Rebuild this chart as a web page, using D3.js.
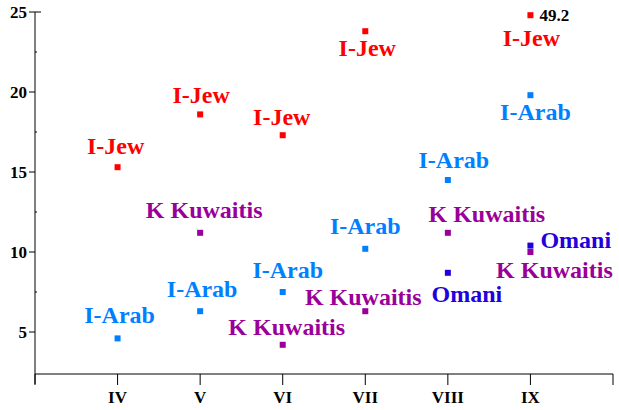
<!DOCTYPE html>
<html>
<head>
<meta charset="utf-8">
<script src="https://cdn.jsdelivr.net/npm/d3@7"></script>
</head>
<body style="margin:0">
<script>
// periods on the x axis (roman numerals, index 4..9)
const periods = ['IV', 'V', 'VI', 'VII', 'VIII', 'IX'];
const periodNums = [4, 5, 6, 7, 8, 9];

// series values per period (null = no point)
const iJew = [15.3, 18.6, 17.3, 23.8, null, 49.2];
const iArab = [4.6, 6.3, 7.5, 10.2, 14.5, 19.8];
const kKuwaitis = [null, 11.2, 4.2, 6.3, 11.2, 10.0];
const omani = [null, null, null, null, 8.7, 10.4];

const yTicks = [5, 10, 15, 20, 25];
const yMinor = [7.5, 12.5, 17.5, 22.5];

// values above the top are drawn just under the frame and get their value written beside
const offScaleCap = 24.8;

// label placement per point: [dx, dy, anchor]
const labelPlace = {
    'I-Jew': [[-2, -13], [1, -11], [-1, -10], [2, 25], null, [1, 31]],
    'I-Arab': [[2, -15], [2, -14], [5, -14], [0, -15], [6, -12], [5, 25]],
    'K Kuwaitis': [null, [4, -15], [4, -10], [-2, -6], [39, -11], [24, 26]],
    'Omani': [null, null, null, null, [19, 29], [10, 2, 'start']]
};

const series = [
    { name: 'I-Jew', values: iJew, color: '#ff0000' },
    { name: 'I-Arab', values: iArab, color: '#0080ff' },
    { name: 'K Kuwaitis', values: kKuwaitis, color: '#990099' },
    { name: 'Omani', values: omani, color: '#2200dd' }
];

const width = 619, height = 410;

const svg = d3.select('body').append('svg')
    .attr('width', width)
    .attr('height', height);

const x = d3.scaleLinear().domain([3, 10]).range([35, 613]);
const y = d3.scaleLinear().domain([2.375, 25]).range([374, 12]);

// y axis
svg.append('line')
    .attr('x1', x(3)).attr('x2', x(3))
    .attr('y1', y(25)).attr('y2', y(2.375) + 10)
    .attr('stroke', '#000');

svg.selectAll('.ytick')
    .data(yTicks)
    .enter().append('line')
    .attr('x1', x(3) - 6)
    .attr('x2', d => d === 25 ? x(3) + 6 : x(3))
    .attr('y1', d => y(d)).attr('y2', d => y(d))
    .attr('stroke', '#000');

svg.selectAll('.yminor')
    .data(yMinor)
    .enter().append('line')
    .attr('x1', x(3)).attr('x2', x(3) + 2)
    .attr('y1', d => y(d)).attr('y2', d => y(d))
    .attr('stroke', '#000');

svg.selectAll('.ylab')
    .data(yTicks)
    .enter().append('text')
    .attr('x', x(3) - 8)
    .attr('y', d => y(d))
    .attr('dy', '0.35em')
    .attr('text-anchor', 'end')
    .attr('font-family', 'Liberation Serif')
    .attr('font-weight', 'bold')
    .attr('font-size', 17)
    .text(d => d);

// x axis
svg.append('line')
    .attr('x1', x(3)).attr('x2', x(10))
    .attr('y1', y(2.375)).attr('y2', y(2.375))
    .attr('stroke', '#000');

svg.selectAll('.xtick')
    .data([3].concat(periodNums, [10]))
    .enter().append('line')
    .attr('x1', d => x(d)).attr('x2', d => x(d))
    .attr('y1', y(2.375)).attr('y2', y(2.375) + 11)
    .attr('stroke', '#000');

svg.selectAll('.xlab')
    .data(periods)
    .enter().append('text')
    .attr('x', (d, i) => x(periodNums[i]))
    .attr('y', 403)
    .attr('text-anchor', 'middle')
    .attr('font-family', 'Liberation Serif')
    .attr('font-weight', 'bold')
    .attr('font-size', 17)
    .text(d => d);

// points and labels
series.forEach(s => {
    const pts = s.values
        .map((v, i) => ({ v: v, i: i, place: labelPlace[s.name][i] }))
        .filter(d => d.v !== null);

    const g = svg.append('g');

    g.selectAll('rect')
        .data(pts)
        .enter().append('rect')
        .attr('x', d => x(periodNums[d.i]) - 3)
        .attr('y', d => y(Math.min(d.v, offScaleCap)) - 3)
        .attr('width', 6)
        .attr('height', 6)
        .attr('fill', s.color);

    g.selectAll('text')
        .data(pts)
        .enter().append('text')
        .attr('x', d => x(periodNums[d.i]) + d.place[0])
        .attr('y', d => y(Math.min(d.v, offScaleCap)) + d.place[1])
        .attr('text-anchor', d => d.place[2] || 'middle')
        .attr('font-family', 'Liberation Serif')
        .attr('font-weight', 'bold')
        .attr('font-size', 24)
        .attr('fill', s.color)
        .text(s.name);

    // value written next to off-scale points
    g.selectAll('.over')
        .data(pts.filter(d => d.v > 25))
        .enter().append('text')
        .attr('x', d => x(periodNums[d.i]) + 9)
        .attr('y', d => y(offScaleCap) + 6)
        .attr('font-family', 'Liberation Serif')
        .attr('font-weight', 'bold')
        .attr('font-size', 17)
        .attr('fill', '#000')
        .text(d => d.v);
});
</script>
</body>
</html>
